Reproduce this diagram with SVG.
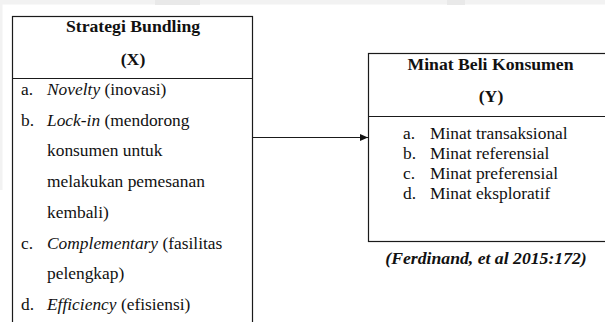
<svg xmlns="http://www.w3.org/2000/svg" width="605" height="322" viewBox="0 0 605 322">
<style>
text{font-family:"Liberation Serif","Times New Roman",serif;fill:#111;}
.t{font-size:17.7px;font-weight:bold;text-anchor:middle;}
.b{font-size:17.4px;}
.i{font-style:italic;}
.c{font-size:17.7px;font-weight:bold;font-style:italic;text-anchor:middle;}
.box{fill:none;stroke:#1a1a1a;stroke-width:1.2;}
.ln{stroke:#1a1a1a;stroke-width:1.2;fill:none;}
</style>
<defs>
<marker id="ah" markerWidth="8" markerHeight="8" refX="8" refY="3.5" orient="auto" markerUnits="userSpaceOnUse">
<path d="M0,0 L8,3.5 L0,7 Z" fill="#111"/>
</marker>
</defs>
<rect x="0" y="0" width="605" height="322" fill="#fff"/>
<rect x="0" y="0" width="605" height="4.5" fill="#f2f2f2"/>
<rect x="155" y="0" width="45" height="5" fill="#e9e9e9"/>
<rect x="447" y="0" width="18" height="5" fill="#e9e9e9"/>
<rect x="0" y="0" width="2.5" height="190" fill="#f2f2f2"/>
<g id="connectors">
<line class="ln" x1="253" y1="137.5" x2="368" y2="137.5" marker-end="url(#ah)"/>
</g>
<g id="strategi-bundling">
<rect class="box" x="12.5" y="16.5" width="240" height="320"/>
<line class="ln" x1="12.5" y1="78.5" x2="252.5" y2="78.5"/>
<text class="t" x="133" y="32">Strategi Bundling</text>
<text class="t" x="133" y="65">(X)</text>
<text class="b" x="21" y="95">a.</text>
<text class="b" x="47" y="95"><tspan class="i">Novelty</tspan> (inovasi)</text>
<text class="b" x="21" y="125.7">b.</text>
<text class="b" x="47" y="125.7"><tspan class="i">Lock-in</tspan> (mendorong</text>
<text class="b" x="47" y="156.4">konsumen untuk</text>
<text class="b" x="47" y="187.1">melakukan pemesanan</text>
<text class="b" x="47" y="217.8">kembali)</text>
<text class="b" x="21" y="248.5">c.</text>
<text class="b" x="47" y="248.5"><tspan class="i">Complementary</tspan> (fasilitas</text>
<text class="b" x="47" y="279.2">pelengkap)</text>
<text class="b" x="21" y="309.9">d.</text>
<text class="b" x="47" y="309.9"><tspan class="i">Efficiency</tspan> (efisiensi)</text>
</g>
<g id="minat-beli-konsumen">
<rect class="box" x="368.5" y="53.5" width="250" height="188"/>
<line class="ln" x1="368.5" y1="116.5" x2="610" y2="116.5"/>
<text class="t" x="490.5" y="70">Minat Beli Konsumen</text>
<text class="t" x="491" y="102">(Y)</text>
<text class="b" x="403" y="139">a.</text>
<text class="b" x="430" y="139">Minat transaksional</text>
<text class="b" x="403" y="159">b.</text>
<text class="b" x="430" y="159">Minat referensial</text>
<text class="b" x="403" y="179">c.</text>
<text class="b" x="430" y="179">Minat preferensial</text>
<text class="b" x="403" y="199">d.</text>
<text class="b" x="430" y="199">Minat eksploratif</text>
</g>
<g id="citation">
<text class="c" x="486" y="264">(Ferdinand, et al 2015:172)</text>
</g>
</svg>
